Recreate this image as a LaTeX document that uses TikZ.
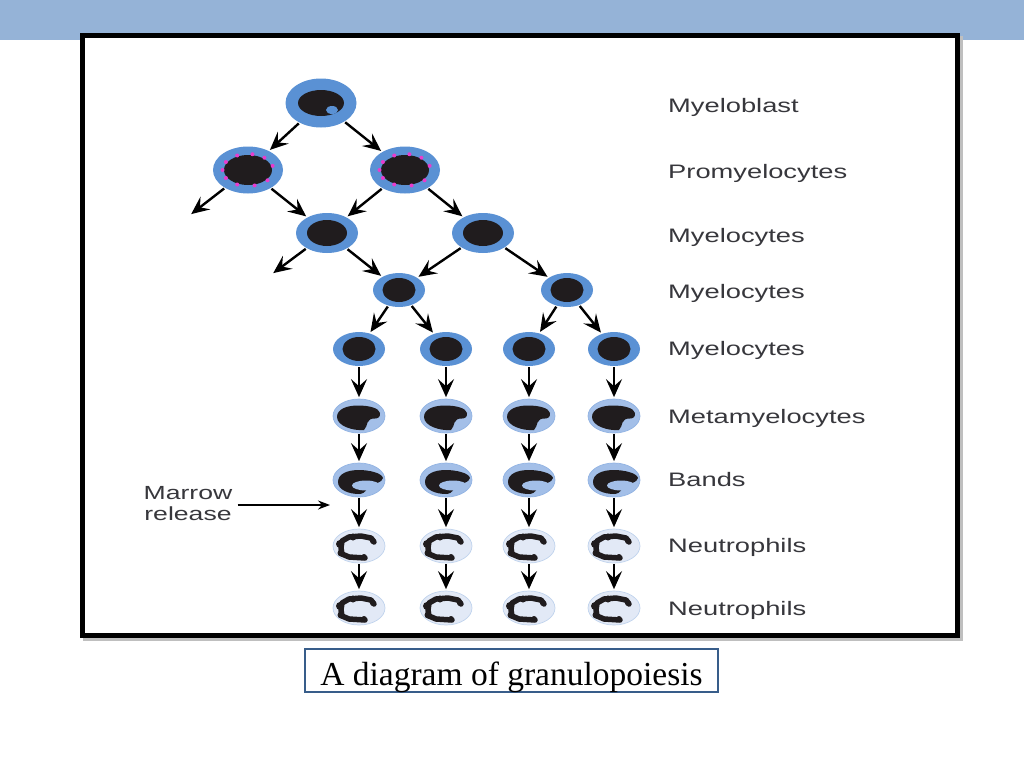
\documentclass[tikz,border=0pt]{standalone}
\usepackage{fontspec}
\setmainfont{Liberation Serif}
\setsansfont{Liberation Sans}
\usetikzlibrary{arrows.meta,shapes.geometric}
\definecolor{topband}{RGB}{149,179,215}
\definecolor{capline}{RGB}{56,93,138}
\definecolor{ring}{RGB}{90,145,212}
\definecolor{nuc}{RGB}{32,28,30}
\definecolor{meta}{RGB}{163,191,232}
\definecolor{neut}{RGB}{226,233,246}
\definecolor{gran}{RGB}{232,60,205}
\definecolor{lbl}{RGB}{55,55,60}
\def\wide#1{\scalebox{1.4}[1]{#1}}
\def\metanuc{(-22,1) .. controls (-22,-7) and (-12,-10.5) .. (-1,-10.5) .. controls (10,-10.5) and (20,-8) .. (21,-3) .. controls (21.5,1) and (19,2.5) .. (16,2.5) .. controls (12,2.5) and (9.5,3.5) .. (8.5,6.5) .. controls (7.5,9.5) and (7,12) .. (5,14) .. controls (-6,15) and (-22,10) .. cycle}
\def\bandnuc{(-21,2) .. controls (-21,-6) and (-12,-10) .. (0,-10) .. controls (10,-10) and (23,-7) .. (24,-2) .. controls (24,2) and (14,4) .. (8,9) .. controls (6,12) and (4,14) .. (0,14) .. controls (-10,14) and (-21,10) .. cycle}
\def\neutnuc{(15,-4) -- (12,-8) -- (2,-10) -- (-10,-9) -- (-17,-5) -- (-18,2) -- (-17,8) -- (-10,11) -- (6,12)}
\def\neutlobes{(14,-5) circle (3pt) (-19,-2) circle (4pt) (-18,7) circle (3.5pt) (-6,-9) circle (3.5pt) (5,11) circle (3pt)}

\begin{document}
\begin{tikzpicture}[x=1pt,y=-1pt,
  cell/.style={ellipse, inner sep=0pt, fill=ring, minimum width=52pt, minimum height=34pt},
  pale/.style={cell, fill=#1, draw=#1!75!ring, line width=0.7pt},
  nucline/.style={draw=nuc, line width=5.5pt, line cap=round, line join=round},
  arr/.style={-{Stealth[length=18pt,width=16pt,inset=7pt]}, line width=2.4pt, shorten <=1pt, shorten >=1.5pt},
  stage/.style={anchor=base west, text=lbl, font=\sffamily\fontsize{19.5}{21}\selectfont, inner sep=0pt}]
\useasboundingbox (0,0) rectangle (1024,768);
\fill[topband] (0,0) rectangle (1024,40);
\fill[black!25] (83,36) rectangle (963,641);
\draw[line width=5pt, fill=white] (82.5,35.5) rectangle (957.5,635.5);

% myeloblast, promyelocytes
\node[cell, minimum width=71pt, minimum height=49pt] (mb) at (321,103) {};
\fill[nuc] (mb) ellipse [x radius=23pt, y radius=13pt];
\fill[ring] (332,110) ellipse [x radius=6pt, y radius=4pt];
\foreach \n/\x in {pl/248, pr/405}{
  \node[cell, minimum width=70pt, minimum height=47pt] (\n) at (\x,170) {};
  \fill[nuc] (\n) ellipse [x radius=24pt, y radius=15pt];
  \foreach \a in {15,50,80,115,150,180,210,245,285,320}
    \fill[gran] (\n) ++(\a:25.5pt and 16pt) circle (2pt);
}

% myelocytes
\foreach \n/\x in {ml/327, mr/483}{
  \node[cell, minimum width=62pt, minimum height=40pt] (\n) at (\x,233) {};
  \fill[nuc] (\n) ellipse [x radius=20pt, y radius=13pt];
}
\foreach \n/\x in {nl/399, nr/567}{
  \node[cell] (\n) at (\x,290) {};
  \fill[nuc] (\n) ellipse [x radius=16.5pt, y radius=12pt];
}
\coordinate (lost1) at (190,215);
\coordinate (lost2) at (272,274);
\coordinate (rel) at (330,505);

\draw[arr] (mb) -- (pl);
\draw[arr] (mb) -- (pr);
\draw[arr] (pl) -- (lost1);
\draw[arr] (pl) -- (ml);
\draw[arr] (pr) -- (ml);
\draw[arr] (pr) -- (mr);
\draw[arr] (ml) -- (lost2);
\draw[arr] (ml) -- (nl);
\draw[arr] (mr) -- (nl);
\draw[arr] (mr) -- (nr);

% four columns down to neutrophils
\foreach \i/\x in {1/359, 2/446, 3/529, 4/614}{
  \node[cell] (c\i) at (\x,349) {};
  \fill[nuc] (c\i) ellipse [x radius=16.5pt, y radius=12pt];
  \node[pale=meta] (t\i) at (\x,416) {};
  \begin{scope}[shift={(\x,416)}]
    \clip (0,0) ellipse [x radius=25pt, y radius=16.5pt];
    \fill[nuc] \metanuc;
  \end{scope}
  \node[pale=meta] (b\i) at (\x,480) {};
  \begin{scope}[shift={(\x,480)}]
    \clip (0,0) ellipse [x radius=25pt, y radius=16.5pt];
    \fill[nuc] \bandnuc;
    \fill[meta] (7,5.5) ellipse [x radius=14pt, y radius=5pt];
  \end{scope}
  \node[pale=neut] (n\i) at (\x,546) {};
  \node[pale=neut] (f\i) at (\x,608) {};
  \foreach \y in {546,608}{
    \draw[nucline, shift={(\x,\y)}] \neutnuc;
    \fill[nuc, shift={(\x,\y)}] \neutlobes;
  }
  \foreach \u/\v in {c/t, t/b, b/n, n/f}
    \draw[arr] (\u\i) -- (\v\i);
}
\draw[arr] (nl) -- (c1);
\draw[arr] (nl) -- (c2);
\draw[arr] (nr) -- (c3);
\draw[arr] (nr) -- (c4);

% marrow release
\node[text=lbl, align=center, inner sep=5pt, font=\sffamily\fontsize{19}{21}\selectfont] (marrow) at (188,504) {\wide{Marrow}\\\wide{release}};
\draw[-{Stealth[length=12pt,width=9pt,inset=4pt]}, line width=1.2pt] (marrow.east |- rel) -- (rel);

% stage names
\foreach \t/\y [count=\k] in {Myeloblast/112, Promyelocytes/178, Myelocytes/242, Myelocytes/298, Myelocytes/355, Metamyelocytes/423, Bands/486, Neutrophils/552, Neutrophils/615}
  \node[stage] (lab\k) at (668,\y) {\wide{\t}};

\node[draw=capline, line width=1.5pt, minimum width=413pt, minimum height=43pt, inner sep=0pt] (cap) at (511.5,670.5) {};
\node[anchor=base, inner sep=0pt, font=\fontsize{33.5}{36}\selectfont] (captext) at (511.5,685) {A diagram of granulopoiesis};
\end{tikzpicture}
\end{document}
